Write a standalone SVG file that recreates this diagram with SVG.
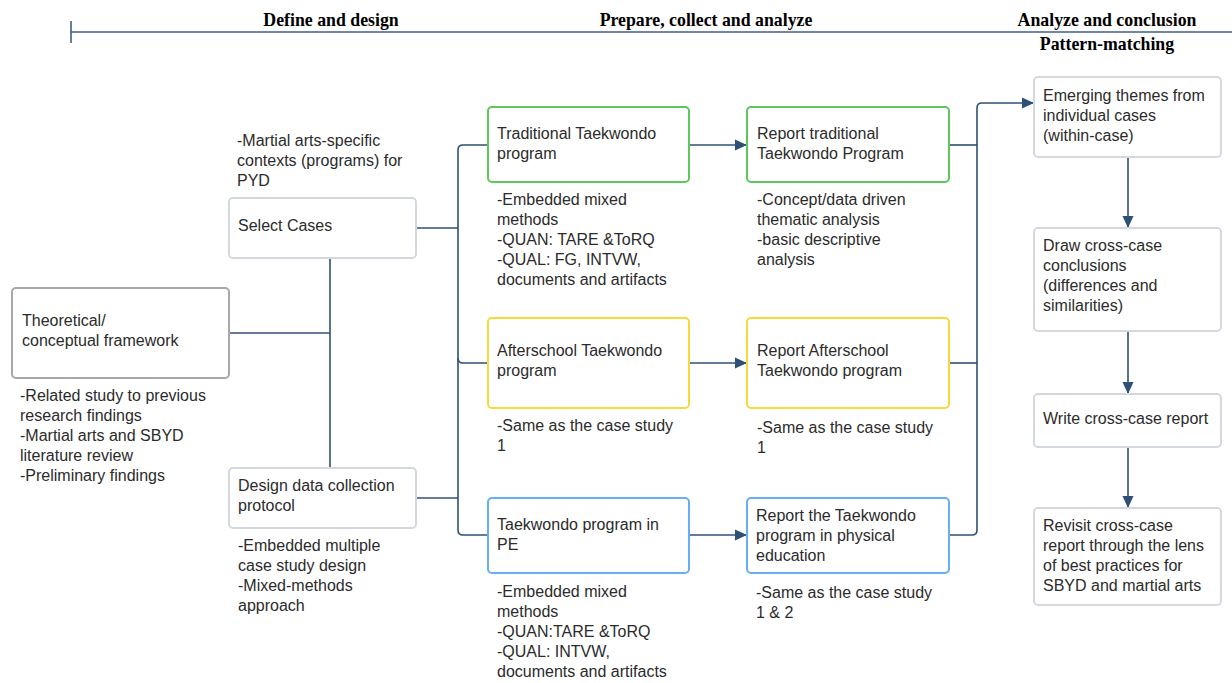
<svg xmlns="http://www.w3.org/2000/svg" width="1232" height="683" viewBox="0 0 1232 683">
<style>
.hd{font-family:"Liberation Serif",serif;font-weight:bold;font-size:17.8px;fill:#000;text-anchor:middle}
.t{font-family:"Liberation Sans",Arial,sans-serif;font-size:16px;fill:#2b2b2b}
.box{fill:#fff;stroke:#d3d8e0;stroke-width:2}
.dark{fill:#fff;stroke:#a6a8ad;stroke-width:2}
.green{fill:#fff;stroke:#5cc85a;stroke-width:2}
.yellow{fill:#fff;stroke:#f7d93a;stroke-width:2}
.blue{fill:#fff;stroke:#66aef5;stroke-width:2}
.c{fill:none;stroke:#2e5077;stroke-width:1.6}
</style>
<defs>
<marker id="ah" markerWidth="12" markerHeight="12" refX="11" refY="6" orient="auto" markerUnits="userSpaceOnUse">
<path d="M0,0.5 L12,6 L0,11.5 Z" fill="#2e5077"/>
</marker>
</defs>
<rect width="1232" height="683" fill="#fff"/>
<g id="timeline">
<line x1="71" y1="21" x2="71" y2="43" stroke="#3b6088" stroke-width="1.6"/>
<line x1="71" y1="32" x2="1232" y2="32" stroke="#3b6088" stroke-width="1.6"/>
<text class="hd" x="331" y="26">Define and design</text>
<text class="hd" x="706" y="26">Prepare, collect and analyze</text>
<text class="hd" x="1107" y="26">Analyze and conclusion</text>
<text class="hd" x="1107" y="50">Pattern-matching</text>
</g>
<g id="connectors">
<path class="c" d="M229,333 H330"/>
<path class="c" d="M330,258 V468"/>
<path class="c" d="M416,228 H458"/>
<path class="c" d="M416,498 H458"/>
<path class="c" d="M488,145 H463 Q458,145 458,150 V530 Q458,535 463,535 H488"/>
<path class="c" d="M458,358 Q458,363 463,363 H488"/>
<path class="c" d="M689,145 H746" marker-end="url(#ah)"/>
<path class="c" d="M689,363 H746" marker-end="url(#ah)"/>
<path class="c" d="M689,535 H746" marker-end="url(#ah)"/>
<path class="c" d="M949,145 H977"/>
<path class="c" d="M949,363 H977"/>
<path class="c" d="M949,535 H972 Q977,535 977,530 V108 Q977,103 982,103 H1033" marker-end="url(#ah)"/>
<path class="c" d="M1128,157 V227" marker-end="url(#ah)"/>
<path class="c" d="M1128,331 V393" marker-end="url(#ah)"/>
<path class="c" d="M1128,447 V507" marker-end="url(#ah)"/>
</g>
<g id="theoretical">
<rect class="dark" x="12" y="288" width="217" height="90" rx="4"/>
<text class="t" x="22" y="326">Theoretical/</text>
<text class="t" x="22" y="346">conceptual framework</text>
<text class="t" x="20" y="401">-Related study to previous</text>
<text class="t" x="20" y="421">research findings</text>
<text class="t" x="20" y="441">-Martial arts and SBYD</text>
<text class="t" x="20" y="461">literature review</text>
<text class="t" x="20" y="481">-Preliminary findings</text>
</g>
<g id="select-cases">
<text class="t" x="237" y="146">-Martial arts-specific</text>
<text class="t" x="237" y="166">contexts (programs) for</text>
<text class="t" x="237" y="186">PYD</text>
<rect class="box" x="229" y="198" width="187" height="60" rx="4"/>
<text class="t" x="238" y="231">Select Cases</text>
</g>
<g id="design-protocol">
<rect class="box" x="229" y="468" width="187" height="60" rx="4"/>
<text class="t" x="238" y="491">Design data collection</text>
<text class="t" x="238" y="511">protocol</text>
<text class="t" x="238" y="551">-Embedded multiple</text>
<text class="t" x="238" y="571">case study design</text>
<text class="t" x="238" y="591">-Mixed-methods</text>
<text class="t" x="238" y="611">approach</text>
</g>
<g id="traditional">
<rect class="green" x="488" y="107" width="201" height="75" rx="4"/>
<text class="t" x="497" y="139">Traditional Taekwondo</text>
<text class="t" x="497" y="159">program</text>
<text class="t" x="497" y="205">-Embedded mixed</text>
<text class="t" x="497" y="225">methods</text>
<text class="t" x="497" y="245">-QUAN: TARE &amp;ToRQ</text>
<text class="t" x="497" y="265">-QUAL: FG, INTVW,</text>
<text class="t" x="497" y="285">documents and artifacts</text>
</g>
<g id="report-traditional">
<rect class="green" x="747" y="107" width="202" height="75" rx="4"/>
<text class="t" x="757" y="139">Report traditional</text>
<text class="t" x="757" y="159">Taekwondo Program</text>
<text class="t" x="757" y="205">-Concept/data driven</text>
<text class="t" x="757" y="225">thematic analysis</text>
<text class="t" x="757" y="245">-basic descriptive</text>
<text class="t" x="757" y="265">analysis</text>
</g>
<g id="afterschool">
<rect class="yellow" x="488" y="318" width="201" height="90" rx="4"/>
<text class="t" x="497" y="356">Afterschool Taekwondo</text>
<text class="t" x="497" y="376">program</text>
<text class="t" x="497" y="431">-Same as the case study</text>
<text class="t" x="497" y="451">1</text>
</g>
<g id="report-afterschool">
<rect class="yellow" x="747" y="318" width="202" height="90" rx="4"/>
<text class="t" x="757" y="356">Report Afterschool</text>
<text class="t" x="757" y="376">Taekwondo program</text>
<text class="t" x="757" y="433">-Same as the case study</text>
<text class="t" x="757" y="453">1</text>
</g>
<g id="pe">
<rect class="blue" x="488" y="498" width="201" height="75" rx="4"/>
<text class="t" x="497" y="530">Taekwondo program in</text>
<text class="t" x="497" y="550">PE</text>
<text class="t" x="497" y="597">-Embedded mixed</text>
<text class="t" x="497" y="617">methods</text>
<text class="t" x="497" y="637">-QUAN:TARE &amp;ToRQ</text>
<text class="t" x="497" y="657">-QUAL: INTVW,</text>
<text class="t" x="497" y="677">documents and artifacts</text>
</g>
<g id="report-pe">
<rect class="blue" x="747" y="498" width="202" height="75" rx="4"/>
<text class="t" x="756" y="521">Report the Taekwondo</text>
<text class="t" x="756" y="541">program in physical</text>
<text class="t" x="756" y="561">education</text>
<text class="t" x="756" y="598">-Same as the case study</text>
<text class="t" x="756" y="618">1 &amp; 2</text>
</g>
<g id="emerging">
<rect class="box" x="1034" y="77" width="187" height="80" rx="4"/>
<text class="t" x="1043" y="101">Emerging themes from</text>
<text class="t" x="1043" y="121">individual cases</text>
<text class="t" x="1043" y="141">(within-case)</text>
</g>
<g id="draw-conclusions">
<rect class="box" x="1034" y="228" width="187" height="103" rx="4"/>
<text class="t" x="1043" y="251">Draw cross-case</text>
<text class="t" x="1043" y="271">conclusions</text>
<text class="t" x="1043" y="291">(differences and</text>
<text class="t" x="1043" y="311">similarities)</text>
</g>
<g id="write-report">
<rect class="box" x="1034" y="394" width="187" height="53" rx="4"/>
<text class="t" x="1043" y="424">Write cross-case report</text>
</g>
<g id="revisit">
<rect class="box" x="1034" y="508" width="187" height="97" rx="4"/>
<text class="t" x="1043" y="531">Revisit cross-case</text>
<text class="t" x="1043" y="551">report through the lens</text>
<text class="t" x="1043" y="571">of best practices for</text>
<text class="t" x="1043" y="591">SBYD and martial arts</text>
</g>
</svg>
